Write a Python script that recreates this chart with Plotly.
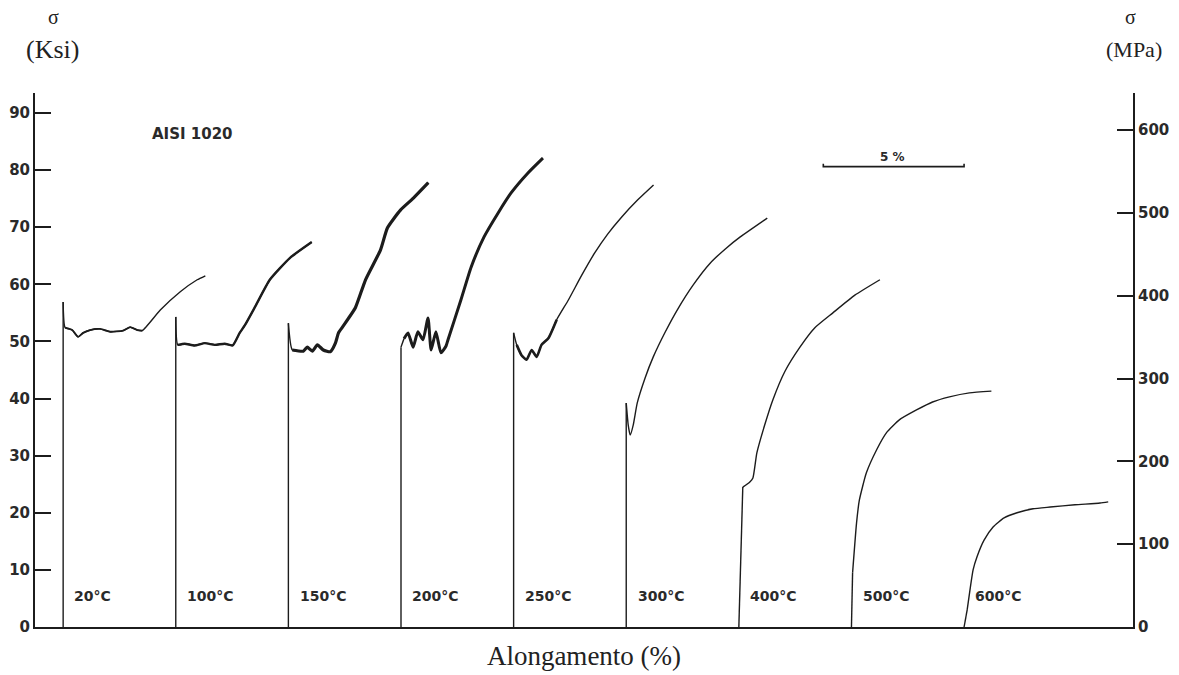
import plotly.graph_objects as go

# ---------------- data ----------------
temps = ["20°C", "100°C", "150°C", "200°C", "250°C", "300°C", "400°C", "500°C", "600°C"]
# strain at which each test curve starts on the common elongation axis (%)
offsets = [1, 5, 9, 13, 17, 21, 25, 29, 33]

# strain (%) measured from each curve's own origin, stress in ksi
strain_20 = [0, 0, 0.07, 0.32, 0.53, 0.71, 0.96, 1.31, 1.67, 2.13, 2.38, 2.63, 2.81, 3.45, 4.16, 4.76, 5.05]
stress_20 = [0, 56.9, 52.4, 52.0, 50.8, 51.5, 52.0, 52.2, 51.7, 51.9, 52.5, 52.0, 51.9, 55.5, 58.7, 60.8, 61.5]

strain_100 = [0, 0, 0.07, 0.32, 0.67, 1.03, 1.39, 1.74, 2.02, 2.27, 2.45, 2.81, 3.34, 4.05, 4.83]
stress_100 = [0, 54.3, 49.4, 49.6, 49.3, 49.7, 49.4, 49.6, 49.3, 51.5, 52.8, 56.0, 60.8, 64.6, 67.4]

strain_150 = [0, 0, 0.14, 0.53, 0.67, 0.85, 1.03, 1.24, 1.49, 1.67, 1.78, 1.92, 2.10, 2.38, 2.74, 3.27, 3.52, 3.98, 4.44, 4.97]
stress_150 = [0, 53.2, 48.5, 48.3, 49.0, 48.3, 49.4, 48.5, 48.2, 49.7, 51.5, 52.5, 53.8, 55.9, 60.8, 66.0, 69.9, 73.0, 75.1, 77.8]

strain_200 = [0, 0, 0.11, 0.25, 0.43, 0.60, 0.78, 0.96, 1.07, 1.24, 1.42, 1.60, 1.67, 2.13, 2.49, 2.95, 3.45, 3.91, 4.51, 5.04]
stress_200 = [0, 49.0, 50.5, 51.5, 49.0, 51.7, 50.3, 54.1, 48.5, 51.7, 48.0, 49.2, 50.3, 57.3, 63.0, 68.3, 72.5, 76.0, 79.5, 82.1]

strain_250 = [0, 0, 0.11, 0.28, 0.46, 0.64, 0.82, 0.99, 1.24, 1.53, 1.95, 2.42, 2.88, 3.34, 3.84, 4.41, 4.97]
stress_250 = [0, 51.5, 49.4, 47.6, 46.8, 48.5, 47.3, 49.4, 50.6, 53.8, 57.3, 61.6, 65.5, 68.8, 71.8, 74.8, 77.4]

strain_300 = [0, 0, 0.07, 0.14, 0.25, 0.39, 0.67, 0.96, 1.39, 1.81, 2.38, 2.98, 3.52, 4.05, 5.01]
stress_300 = [0, 39.2, 35.4, 33.6, 35.4, 39.2, 43.6, 47.3, 51.7, 55.5, 59.9, 63.7, 66.2, 68.3, 71.6]

strain_400 = [0, 0.14, 0.39, 0.50, 0.64, 0.92, 1.21, 1.63, 2.17, 2.70, 3.34, 4.12, 5.01]
stress_400 = [0, 24.5, 25.4, 26.1, 30.5, 35.4, 39.8, 44.7, 49.0, 52.4, 55.0, 58.1, 60.8]

strain_500 = [0, 0.04, 0.18, 0.28, 0.53, 0.89, 1.24, 1.71, 2.31, 2.88, 3.48, 4.19, 4.97]
stress_500 = [0, 9.5, 18.2, 22.2, 27.0, 31.0, 34.0, 36.3, 38.0, 39.4, 40.3, 41.0, 41.3]

strain_600 = [0, 0.11, 0.21, 0.32, 0.46, 0.71, 1.03, 1.42, 1.88, 2.45, 3.06, 3.94, 4.83, 5.12]
stress_600 = [0, 3.0, 6.5, 10.0, 12.3, 15.2, 17.5, 19.1, 20.0, 20.7, 21.0, 21.4, 21.7, 21.9]

ksi_ticks = [0, 10, 20, 30, 40, 50, 60, 70, 80, 90]
mpa_ticks = [0, 100, 200, 300, 400, 500, 600]
KSI_TO_MPA = 6.895
material = "AISI 1020"
scale_bar_start = 28   # % elongation
scale_bar_length = 5   # %
scale_bar_level = 80.6 # ksi

strains = [strain_20, strain_100, strain_150, strain_200, strain_250,
           strain_300, strain_400, strain_500, strain_600]
stresses = [stress_20, stress_100, stress_150, stress_200, stress_250,
            stress_300, stress_400, stress_500, stress_600]

# ---------------- style ----------------
INK = "#1c1c1c"
# (start index, stop index, width) of the thicker noisy part of each trace
bands = [(1, 13, 1.8), (1, 15, 2.4), (1, 20, 3.2), (1, 20, 3.0), (1, 10, 2.6),
         None, None, None, None]
Y_MAX = 93.5
X_MAX = 39

fig = go.Figure()
for i, (off, sx, sy) in enumerate(zip(offsets, strains, stresses)):
    xs = [off + v for v in sx]
    # elastic (vertical) part drawn straight, the rest as a smooth curve
    fig.add_trace(go.Scatter(x=xs[:2], y=sy[:2], mode="lines",
                             line=dict(color=INK, width=1.4),
                             showlegend=False, hoverinfo="skip"))
    fig.add_trace(go.Scatter(x=xs[1:], y=sy[1:], mode="lines",
                             line=dict(color=INK, width=1.4, shape="spline", smoothing=0.5),
                             name=temps[i], showlegend=False, hoverinfo="skip"))
    if bands[i]:
        a, b, w = bands[i]
        fig.add_trace(go.Scatter(x=xs[a + 1:b], y=sy[a + 1:b], mode="lines",
                                 line=dict(color=INK, width=w, shape="spline", smoothing=0.5),
                                 showlegend=False, hoverinfo="skip"))

# invisible trace that anchors the MPa axis
fig.add_trace(go.Scatter(x=[offsets[0]], y=[0], yaxis="y2", mode="markers",
                         marker=dict(opacity=0), showlegend=False, hoverinfo="skip"))

# 5 % scale bar
bx0 = scale_bar_start
bx1 = scale_bar_start + scale_bar_length
fig.add_trace(go.Scatter(x=[bx0, bx0, bx1, bx1],
                         y=[scale_bar_level + 0.5, scale_bar_level, scale_bar_level, scale_bar_level + 0.5],
                         mode="lines", line=dict(color=INK, width=1.6),
                         showlegend=False, hoverinfo="skip"))

tickfont = dict(family="DejaVu Sans", size=15, color="#2a2a2a", weight="bold")
serif = dict(family="Liberation Serif", color="#222")

annotations = []
for t, off in zip(temps, offsets):
    annotations.append(dict(x=off + 0.33, y=5.4, text=t, showarrow=False, xanchor="left",
                            yanchor="middle", font=dict(family="DejaVu Sans", size=14,
                                                        color="#2a2a2a", weight="bold")))
annotations += [
    dict(x=5.6, y=86.4, text=material, showarrow=False, xanchor="center", yanchor="middle",
         font=dict(family="DejaVu Sans", size=15, color="#2a2a2a", weight="bold")),
    dict(x=bx0 + scale_bar_length / 2 - 0.05, y=82.3, text="5 %", showarrow=False,
         xanchor="center", yanchor="middle",
         font=dict(family="DejaVu Sans", size=12, color="#2a2a2a", weight="bold")),
    dict(xref="paper", yref="paper", x=0.0172, y=1.142, text="σ", showarrow=False,
         xanchor="center", yanchor="middle", font=dict(size=20, **serif)),
    dict(xref="paper", yref="paper", x=0.0155, y=1.081, text="(Ksi)", showarrow=False,
         xanchor="center", yanchor="middle", font=dict(size=26, **serif)),
    dict(xref="paper", yref="paper", x=0.9973, y=1.142, text="σ", showarrow=False,
         xanchor="center", yanchor="middle", font=dict(size=20, **serif)),
    dict(xref="paper", yref="paper", x=1.0009, y=1.081, text="(MPa)", showarrow=False,
         xanchor="center", yanchor="middle", font=dict(size=22, **serif)),
]

fig.update_layout(
    template="none",
    width=1179, height=675,
    margin=dict(l=35, r=46, t=93, b=48),
    paper_bgcolor="white", plot_bgcolor="white",
    showlegend=False,
    xaxis=dict(range=[0, X_MAX], showgrid=False, zeroline=False, showline=True,
               linecolor=INK, linewidth=2, ticks="", showticklabels=False,
               automargin=False,
               title=dict(text="Alongamento (%)", font=dict(size=27, **serif), standoff=18)),
    yaxis=dict(range=[0, Y_MAX], tickvals=ksi_ticks, showgrid=False, zeroline=False,
               showline=True, linecolor=INK, linewidth=2, ticks="inside", ticklen=16,
               tickwidth=2, tickcolor=INK, tickfont=tickfont, automargin=False),
    yaxis2=dict(range=[0, Y_MAX * KSI_TO_MPA], tickvals=mpa_ticks, overlaying="y",
                side="right", showgrid=False, zeroline=False, showline=True,
                linecolor=INK, linewidth=2, ticks="inside", ticklen=16, tickwidth=2,
                tickcolor=INK, tickfont=tickfont, automargin=False),
    annotations=annotations,
)

fig.write_html("out.html")
